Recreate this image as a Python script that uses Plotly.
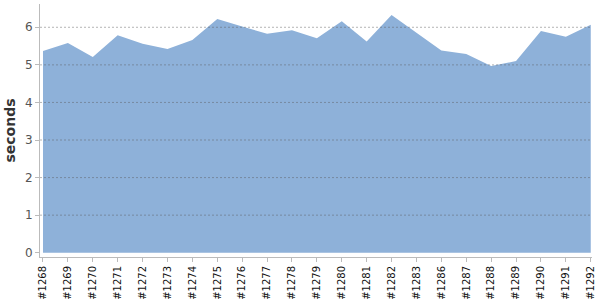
import plotly.graph_objects as go

builds = ["#1268", "#1269", "#1270", "#1271", "#1272", "#1273", "#1274", "#1275",
          "#1276", "#1277", "#1278", "#1279", "#1280", "#1281", "#1282", "#1283",
          "#1286", "#1287", "#1288", "#1289", "#1290", "#1291", "#1292"]
seconds = [5.37, 5.58, 5.21, 5.79, 5.56, 5.42, 5.66, 6.22, 6.02, 5.83, 5.92, 5.71,
           6.16, 5.62, 6.33, 5.86, 5.38, 5.29, 4.97, 5.10, 5.90, 5.75, 6.07]
y_ticks = [0, 1, 2, 3, 4, 5, 6]
grid_lines = [1, 2, 3, 4, 5, 6]

fig = go.Figure()
fig.add_trace(go.Scatter(
    x=builds, y=seconds, mode="lines", fill="tozeroy",
    line=dict(width=0, color="#8eb1d9"), fillcolor="#8eb1d9",
    hoverinfo="skip", showlegend=False,
))

shapes = [dict(type="line", xref="paper", x0=0, x1=1, yref="y", y0=g, y1=g,
               layer="above", line=dict(color="rgba(90,90,90,0.45)", width=1, dash="2px,2px"))
          for g in grid_lines]

fig.update_layout(
    width=600, height=300,
    margin=dict(l=40, r=8, t=4, b=43),
    paper_bgcolor="white", plot_bgcolor="white",
    font=dict(family="DejaVu Sans", color="#444"),
    shapes=shapes,
    xaxis=dict(
        type="category", range=[-0.12, 22.05],
        showline=True, linecolor="#bbbbbb", linewidth=1,
        ticks="outside", ticklen=4, tickcolor="#bbbbbb",
        tickangle=-90, tickfont=dict(size=10, color="#111"),
        showgrid=False, zeroline=False, automargin=False,
    ),
    yaxis=dict(
        range=[-0.114, 6.62], tickvals=y_ticks,
        showline=True, linecolor="#bbbbbb", linewidth=1,
        ticks="outside", ticklen=4, tickcolor="#bbbbbb",
        tickfont=dict(size=12, color="#555"),
        showgrid=False, zeroline=False, automargin=False,
        title=dict(text="<b>seconds</b>", font=dict(size=14, color="#333"), standoff=6),
    ),
)

fig.write_html("out.html")
